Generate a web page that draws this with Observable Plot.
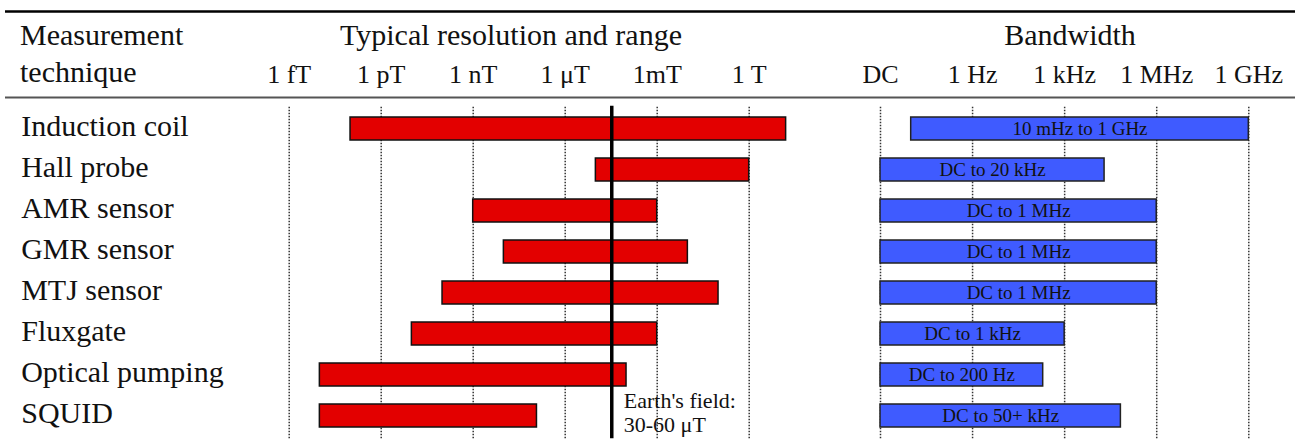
<!DOCTYPE html>
<html>
<head>
<meta charset="utf-8">
<script src="https://cdn.jsdelivr.net/npm/d3@7"></script>
<script src="https://cdn.jsdelivr.net/npm/@observablehq/plot@0.6"></script>
<style>
html, body { margin: 0; padding: 0; background: #fff; }
#wrap { position: relative; width: 1300px; height: 442px; overflow: hidden; }
#wrap > svg { position: absolute; left: 0; top: 0; max-width: none; }
#head text { font-family: "Liberation Serif", "Times New Roman", serif; font-size: 30px; fill: #111; }
</style>
</head>
<body>
<div id="wrap">
  <svg id="head" width="1300" height="442">
    <line x1="5" x2="1295" y1="11.5" y2="11.5" stroke="#000" stroke-width="2.5"></line>
    <line x1="5" x2="1295" y1="97.5" y2="97.5" stroke="#555" stroke-width="2"></line>
    <text x="20" y="45">Measurement</text>
    <text x="20" y="82">technique</text>
    <text x="511" y="45" text-anchor="middle">Typical resolution and range</text>
    <text x="1070" y="45" text-anchor="middle">Bandwidth</text>
  </svg>
</div>
<script>
// ---- data ----
const techniques = ["Induction coil", "Hall probe", "AMR sensor", "GMR sensor", "MTJ sensor", "Fluxgate", "Optical pumping", "SQUID"];
const resolutionLow = [1e-13, 1e-5, 1e-9, 1e-8, 1e-10, 1e-11, 1e-14, 1e-14];   // tesla
const rangeHigh     = [16, 1, 1e-3, 1e-2, 1e-1, 1e-3, 1e-4, 1.2e-7];            // tesla
const bandwidthLow  = [0.01, 0, 0, 0, 0, 0, 0, 0];                             // Hz, 0 = DC
const bandwidthHigh = [1e9, 2e4, 1e6, 1e6, 1e6, 1e3, 200, 6.8e4];              // Hz
const bandwidthLabels = ["10 mHz to 1 GHz", "DC to 20 kHz", "DC to 1 MHz", "DC to 1 MHz", "DC to 1 MHz", "DC to 1 kHz", "DC to 200 Hz", "DC to 50+ kHz"];
const fieldTicks = [1e-15, 1e-12, 1e-9, 1e-6, 1e-3, 1];
const fieldTickLabels = ["1 fT", "1 pT", "1 nT", "1 μT", "1mT", "1 T"];
const freqTicks = [1e-3, 1, 1e3, 1e6, 1e9];
const freqTickLabels = ["DC", "1 Hz", "1 kHz", "1 MHz", "1 GHz"];
const dcFrequency = 1e-3;   // where "DC" sits on the log frequency axis
const earthField = 3.3e-5;
const earthLabel = "Earth's field:\n30-60 μT";

// ---- tables ----
const fieldRows = techniques.map((name, i) => ({name, lo: resolutionLow[i], hi: rangeHigh[i]}));
const freqRows = techniques.map((name, i) => {
  const lo = bandwidthLow[i] === 0 ? dcFrequency : bandwidthLow[i];
  const hi = bandwidthHigh[i];
  return {name, lo, hi, mid: Math.sqrt(lo * hi), label: bandwidthLabels[i]};
});
const fieldLabelOf = new Map(fieldTicks.map((t, i) => [t, fieldTickLabels[i]]));
const freqLabelOf = new Map(freqTicks.map((t, i) => [t, freqTickLabels[i]]));

const serif = '"Liberation Serif", "Times New Roman", serif';
const W = 1300, H = 442, MT = 107.8, MB = 5.3;
const yScale = {type: "band", domain: techniques, paddingInner: 0.436, paddingOuter: 0.2, align: 0.5};
const gridStyle = {stroke: "#333", strokeWidth: 1.5, strokeDasharray: "1.5,1.5", insetTop: -1, insetBottom: -1.5};
const style = {background: "transparent", fontFamily: serif, color: "#111", overflow: "visible"};

const left = Plot.plot({
  width: W, height: H,
  marginTop: MT, marginBottom: MB, marginLeft: 288.7, marginRight: W - 748.7,
  style,
  x: {type: "log", domain: [1e-15, 1]},
  y: yScale,
  marks: [
    Plot.ruleX(fieldTicks, gridStyle),
    Plot.barX(fieldRows, {x1: "lo", x2: "hi", y: "name", fill: "#e30000", stroke: "#111", strokeWidth: 1.5}),
    Plot.ruleX([earthField], {stroke: "#000", strokeWidth: 3.5, insetTop: -2, insetBottom: -1.5}),
    Plot.text([{value: earthField, row: techniques[7], label: earthLabel}],
      {x: "value", y: "row", text: "label", textAnchor: "start", dx: 12, dy: -4, fontSize: 22, lineHeight: 1.11, fill: "#111"}),
    Plot.axisX(fieldTicks, {anchor: "top", tickSize: 0, tickPadding: MT - 82, tickFormat: d => fieldLabelOf.get(d), fontSize: 26, label: null}),
    Plot.axisY({anchor: "left", tickSize: 0, tickPadding: 0, textAnchor: "start", dx: 20.7 - 288.7, dy: -2.5, fontSize: 30, label: null})
  ]
});

const right = Plot.plot({
  width: W, height: H,
  marginTop: MT, marginBottom: MB, marginLeft: 880, marginRight: W - 1248.3,
  style,
  x: {type: "log", domain: [dcFrequency, 1e9]},
  y: {...yScale, axis: null},
  marks: [
    Plot.ruleX(freqTicks, gridStyle),
    Plot.barX(freqRows, {x1: "lo", x2: "hi", y: "name", fill: "#3f5bff", stroke: "#222", strokeWidth: 1.5}),
    Plot.text(freqRows, {x: "mid", y: "name", text: "label", fontSize: 19, fill: "#111"}),
    Plot.axisX(freqTicks, {anchor: "top", tickSize: 0, tickPadding: MT - 82, tickFormat: d => freqLabelOf.get(d), fontSize: 26, label: null})
  ]
});

const wrap = document.getElementById("wrap");
wrap.appendChild(left);
wrap.appendChild(right);
</script>
</body>
</html>
